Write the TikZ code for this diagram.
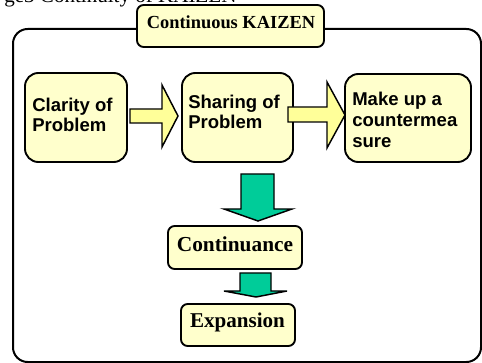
\documentclass[tikz,border=0pt]{standalone}
\usepackage{fontspec}
\setmainfont{Liberation Serif}
\newfontfamily\arialf{Liberation Sans}
\definecolor{boxfill}{HTML}{FFFFCC}
\definecolor{arrowfill}{HTML}{FFFF99}
\definecolor{arrowgreen}{HTML}{00CC99}
\tikzset{
  pbox/.style={draw, line width=1.4pt, fill=boxfill, rounded corners=10pt, inner sep=0},
  sbox/.style={draw, line width=1.4pt, fill=boxfill, rounded corners=5pt, inner sep=0},
  ptext/.style={anchor=base west, inner sep=0, font=\arialf\bfseries\fontsize{13.9}{15}\selectfont},
  stext/.style={anchor=base, inner sep=0, font=\bfseries\fontsize{16}{18}\selectfont},
  yarrow/.style={draw, line width=1.1pt, fill=arrowfill, line join=miter},
  garrow/.style={draw, line width=1.1pt, fill=arrowgreen, line join=miter},
}
\begin{document}
\begin{tikzpicture}[x=0.75pt, y=-0.75pt]
\useasboundingbox (0,0) rectangle (482,363);
\clip (0,0) rectangle (482,363);

% caption line above the frame
\node[anchor=base west, inner sep=0, font=\fontsize{15.8}{18}\selectfont] (cap) at (4,3) {ge3 Continuity of KAIZEN};

% outer frame
\draw[line width=1.5pt, rounded corners=11pt] (13,29) rectangle (481,362);

% title tab
\node[sbox, minimum width=140.25pt, minimum height=31.5pt] (title) at (230.5,26) {};
\node[stext, font=\bfseries\fontsize{13.8}{16}\selectfont] (titletxt) at (231,28.3) {Continuous KAIZEN};

% the three steps
\node[pbox, minimum width=76.5pt, minimum height=66.75pt] (b1) at (76,117.5) {};
\node[ptext] (t1a) at (32,111.7) {Clarity of};
\node[ptext] (t1b) at (32,131.7) {Problem};

\node[pbox, minimum width=83.25pt, minimum height=66.75pt] (b2) at (237.5,117.5) {};
\node[ptext] (t2a) at (188,108.3) {Sharing of};
\node[ptext] (t2b) at (188,128.8) {Problem};

\node[pbox, minimum width=94.5pt, minimum height=66pt] (b3) at (408,118) {};
\node[ptext] (t3a) at (352,106) {Make up a};
\node[ptext] (t3b) at (352,127) {countermea};
\node[ptext] (t3c) at (352,148) {sure};

% follow-up boxes
\node[sbox, minimum width=100.5pt, minimum height=32.25pt] (cont) at (235,247.5) {};
\node[stext] (conttxt) at (235,252) {Continuance};

\node[sbox, minimum width=85.5pt, minimum height=31.5pt] (expn) at (238,325) {};
\node[stext, font=\bfseries\fontsize{15.8}{18}\selectfont] (expntxt) at (237.5,328) {Expansion};

% block arrows between the steps
\draw[yarrow] (130,109) -- (162,109) -- (162,85) -- (178,116) -- (162,147) -- (162,123) -- (130,123) -- cycle;
\draw[yarrow] (288,107) -- (327,107) -- (327,82) -- (345,115) -- (327,148) -- (327,122) -- (288,122) -- cycle;

% downward arrows
\draw[garrow] (241,174) -- (274,174) -- (274,209) -- (292,209) -- (258,221) -- (224,209) -- (241,209) -- cycle;
\draw[garrow] (240,273) -- (271,273) -- (271,291) -- (287,291) -- (256,297) -- (224,291) -- (240,291) -- cycle;
\end{tikzpicture}
\end{document}
